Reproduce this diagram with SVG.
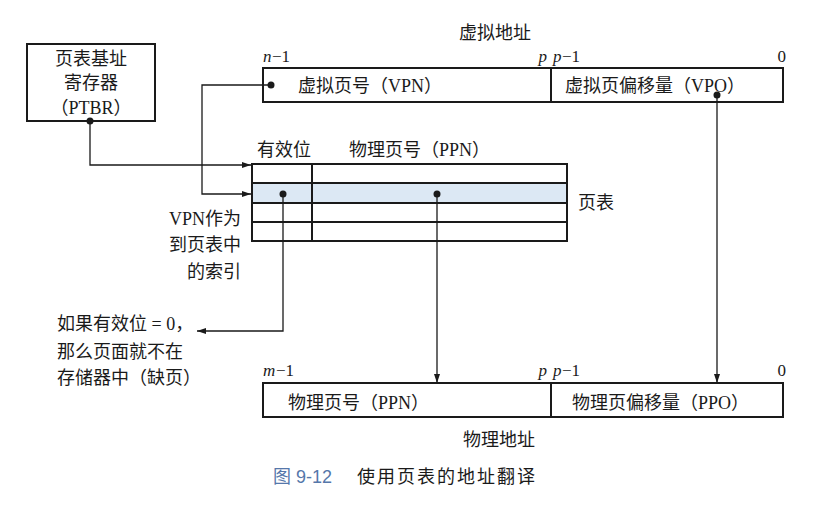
<svg xmlns="http://www.w3.org/2000/svg" width="819" height="515" viewBox="0 0 819 515">
<style>
text{font-family:"Liberation Serif","Noto Sans CJK SC",serif;font-size:18px;fill:#1a1a1a}
.lab{font-size:17px}
.it{font-style:italic}
.box{fill:#fff;stroke:#1a1a1a;stroke-width:2}
.ln{fill:none;stroke:#1a1a1a;stroke-width:1.3}
.dot{fill:#1a1a1a}
.mid{text-anchor:middle}
.end{text-anchor:end}
.cap{fill:#5577aa;font-family:"Liberation Sans","Noto Sans CJK SC",sans-serif}
</style>
<defs>
<marker id="ah" markerWidth="10" markerHeight="8" refX="9" refY="4" orient="auto" markerUnits="userSpaceOnUse">
<path d="M0,1 L9,4 L0,7 Z" fill="#1a1a1a"/>
</marker>
</defs>
<rect width="819" height="515" fill="#fff"/>

<g id="ptbr">
<rect class="box" x="27" y="44" width="128" height="77"/>
<text class="mid" x="91" y="65">页表基址</text>
<text class="mid" x="91" y="89">寄存器</text>
<text class="mid" x="91" y="114">（PTBR）</text>
</g>

<g id="virtual-address">
<text class="mid" x="495" y="39">虚拟地址</text>
<text class="it lab" x="263" y="62">n</text><text class="lab" x="272" y="62">−1</text>
<text class="it end lab" x="547" y="62">p</text>
<text class="it lab" x="553" y="62">p</text><text class="lab" x="562" y="62">−1</text>
<text class="end lab" x="786" y="62">0</text>
<rect class="box" x="263" y="68" width="520" height="34"/>
<line x1="551" y1="68" x2="551" y2="102" stroke="#1a1a1a" stroke-width="2"/>
<text x="298" y="92">虚拟页号（VPN）</text>
<text x="565" y="92">虚拟页偏移量（VPO）</text>
</g>

<g id="page-table">
<text x="257" y="156">有效位</text>
<text x="349" y="156">物理页号（PPN）</text>
<rect class="box" x="252" y="164" width="315" height="77"/>
<rect x="253" y="184" width="313" height="18" fill="#dce8f4"/>
<g stroke="#1a1a1a" stroke-width="2">
<line x1="252" y1="183" x2="567" y2="183"/>
<line x1="252" y1="203" x2="567" y2="203"/>
<line x1="252" y1="222" x2="567" y2="222"/>
<line x1="312" y1="164" x2="312" y2="241"/>
</g>
<text x="578" y="209">页表</text>
<text class="end" x="241" y="225">VPN作为</text>
<text class="end" x="241" y="251">到页表中</text>
<text class="end" x="241" y="278">的索引</text>
</g>

<g id="page-fault-note">
<text x="57" y="330">如果有效位 = 0，</text>
<text x="57" y="358">那么页面就不在</text>
<text x="57" y="384">存储器中（缺页）</text>
</g>

<g id="physical-address">
<text class="it lab" x="263" y="376">m</text><text class="lab" x="276" y="376">−1</text>
<text class="it end lab" x="547" y="376">p</text>
<text class="it lab" x="553" y="376">p</text><text class="lab" x="562" y="376">−1</text>
<text class="end lab" x="786" y="376">0</text>
<rect class="box" x="263" y="383" width="520" height="34"/>
<line x1="551" y1="383" x2="551" y2="417" stroke="#1a1a1a" stroke-width="2"/>
<text x="288" y="409">物理页号（PPN）</text>
<text x="572" y="409">物理页偏移量（PPO）</text>
<text class="mid" x="499" y="446">物理地址</text>
</g>

<g id="connectors">
<path class="ln" d="M90,121 V165 H251" marker-end="url(#ah)"/>
<path class="ln" d="M271,85 H202 V194 H251" marker-end="url(#ah)"/>
<path class="ln" d="M283,194 V331 H197" marker-end="url(#ah)"/>
<path class="ln" d="M437,194 V383" marker-end="url(#ah)"/>
<path class="ln" d="M717,95 V383" marker-end="url(#ah)"/>
<circle class="dot" cx="90" cy="121" r="3.5"/>
<circle class="dot" cx="271" cy="85" r="3.5"/>
<circle class="dot" cx="283" cy="194" r="3.5"/>
<circle class="dot" cx="437" cy="194" r="3.5"/>
<circle class="dot" cx="717" cy="95" r="3.5"/>
</g>

<g id="caption">
<text class="cap" x="273" y="483">图 9-12</text>
<text x="357" y="483" style="letter-spacing:2px">使用页表的地址翻译</text>
</g>
</svg>
